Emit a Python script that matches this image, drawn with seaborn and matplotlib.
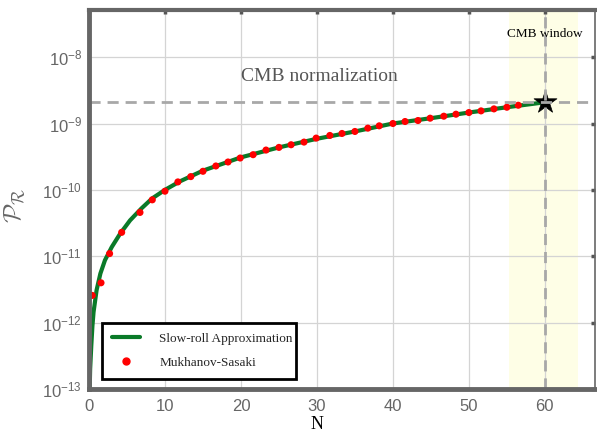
import numpy as np
import pandas as pd
import matplotlib
matplotlib.use("Agg")
import matplotlib.pyplot as plt
from matplotlib.lines import Line2D
from matplotlib.ticker import FixedLocator, LogFormatterSciNotation, NullLocator
import seaborn as sns

# ---- data ----
curve_N = [0.05, 0.15, 0.3, 0.45, 0.6, 1.0, 1.5, 2.1, 3.0, 4.1, 5.4, 6.9, 8.3, 10, 12,
           15, 20, 25, 30, 35, 40, 45, 50, 55, 60]
curve_logP = [-13.2, -12.7, -12.35, -12.05, -11.84, -11.51, -11.26, -11.06, -10.86, -10.66,
              -10.46, -10.28, -10.13, -10.0, -9.87, -9.71, -9.51, -9.36, -9.23, -9.12,
              -9.0, -8.92, -8.835, -8.755, -8.68]

ms_N = [0.43, 1.58, 2.71, 4.30, 6.71, 8.33, 10.0, 11.7, 13.4, 15.0, 16.7, 18.3, 19.9,
        21.6, 23.3, 25.0, 26.6, 28.3, 29.9, 31.7, 33.3, 35.0, 36.7, 38.2, 40.0, 41.6,
        43.3, 44.9, 46.7, 48.3, 50.0, 51.6, 53.3, 55.0, 56.5]
ms_logP = [-11.59, -11.40, -10.96, -10.64, -10.34, -10.15, -10.02, -9.88, -9.80, -9.72,
           -9.64, -9.58, -9.52, -9.47, -9.40, -9.36, -9.32, -9.28, -9.22, -9.18, -9.15,
           -9.12, -9.07, -9.035, -9.0, -8.97, -8.955, -8.92, -8.89, -8.86, -8.835, -8.81,
           -8.78, -8.755, -8.725]

cmb_norm = 2.1e-9
N_star = [60]
P_star = [2.1e-9]
window = (55.3, 64.3)
x_ticks = [0, 10, 20, 30, 40, 50, 60]
y_ticks = [1e-13, 1e-12, 1e-11, 1e-10, 1e-9, 1e-8]

curve_df = pd.DataFrame({"N": curve_N, "P": 10 ** np.array(curve_logP)})
ms_df = pd.DataFrame({"N": ms_N, "P": 10 ** np.array(ms_logP)})
star_df = pd.DataFrame({"N": N_star, "P": P_star})

sns.set_style("white")
plt.rcParams["font.family"] = ["Liberation Sans", "DejaVu Sans"]

fig = plt.figure(figsize=(5.97, 4.33), dpi=100)
ax = fig.add_axes([89 / 597, 1 - 389 / 433, 506 / 597, 379 / 433])
ax.set_yscale("log")
ax.set_xlim(0, 66.6)
ax.set_ylim(1e-13, 10 ** -7.29)

# CMB window shading
ax.axvspan(window[0], window[1], color="#fefee6", zorder=0, lw=0)

# grid
for xv in x_ticks:
    ax.axvline(xv, color="#d4d4d4", lw=0.9, zorder=0.5)
for yv in y_ticks:
    ax.axhline(yv, color="#d4d4d4", lw=0.9, zorder=0.5)

green = "#0a7a28"
sns.lineplot(data=curve_df, x="N", y="P", ax=ax, color=green, lw=3.0, zorder=3,
             legend=False, sort=True)
sns.scatterplot(data=ms_df, x="N", y="P", ax=ax, color="#ff0000", s=26,
                edgecolor="none", zorder=4, legend=False)
sns.scatterplot(data=star_df, x="N", y="P", ax=ax, color="black", marker="*", s=300,
                edgecolor="black", linewidth=0.5, zorder=5, legend=False)

# dashed reference lines
ax.axhline(cmb_norm, color="#a8a8a8", lw=2.0, ls=(0, (4, 2.5)), zorder=6)
ax.axvline(N_star[0], color="#a8a8a8", lw=2.0, ls=(0, (4, 2.5)), zorder=6)

ax.text(30.3, 10 ** -8.362, "CMB normalization", family="Liberation Serif", fontsize=14,
        color="#555555", ha="center", va="baseline", zorder=7)
ax.text(60, 10 ** -7.70, "CMB window", family="Liberation Serif", fontsize=9.5,
        color="black", ha="center", va="baseline", zorder=7)

# ticks
ax.xaxis.set_major_locator(FixedLocator(x_ticks))
ax.yaxis.set_major_locator(FixedLocator(y_ticks))
ax.yaxis.set_minor_locator(NullLocator())
ax.xaxis.set_minor_locator(NullLocator())
ax.yaxis.set_major_formatter(LogFormatterSciNotation())
ax.tick_params(axis="both", which="major", direction="in", length=3, width=2.5,
               color="#555555", labelcolor="#666666", labelsize=12,
               top=True, right=True)
ax.tick_params(axis="x", pad=7)
ax.tick_params(axis="y", pad=5)

# spines
for side, lw in (("left", 3.5), ("bottom", 3.5), ("top", 3.0), ("right", 1.2)):
    ax.spines[side].set_visible(True)
    ax.spines[side].set_color("#666666")
    ax.spines[side].set_linewidth(lw)
    ax.spines[side].set_zorder(8)

ax.set_xlabel("N", family="Liberation Serif", fontsize=13, color="black")
ax.xaxis.set_label_coords((317 - 89) / 506, -0.07)
ax.set_ylabel(r"$\mathcal{P}_{\mathcal{R}}$", fontsize=18, color="#666666",
              math_fontfamily="cm")
ax.yaxis.set_label_coords(-0.125, 0.485)

handles = [Line2D([], [], color=green, lw=3.0),
           Line2D([], [], color="#ff0000", marker="o", ls="none", ms=5)]
leg = ax.legend(handles, ["Slow-roll Approximation", "Mukhanov-Sasaki"],
                loc="lower left", bbox_to_anchor=(13 / 506, 10 / 379, 194 / 506, 0.2),
                mode="expand", frameon=True, fancybox=False, framealpha=1,
                edgecolor="black", prop={"family": "Liberation Serif", "size": 9.5},
                handlelength=2.1, handletextpad=1.5, labelspacing=0.9, borderpad=0.75,
                borderaxespad=0)
leg.get_frame().set_linewidth(2.0)
leg.set_zorder(9)

fig.savefig("out.png", dpi=100)
